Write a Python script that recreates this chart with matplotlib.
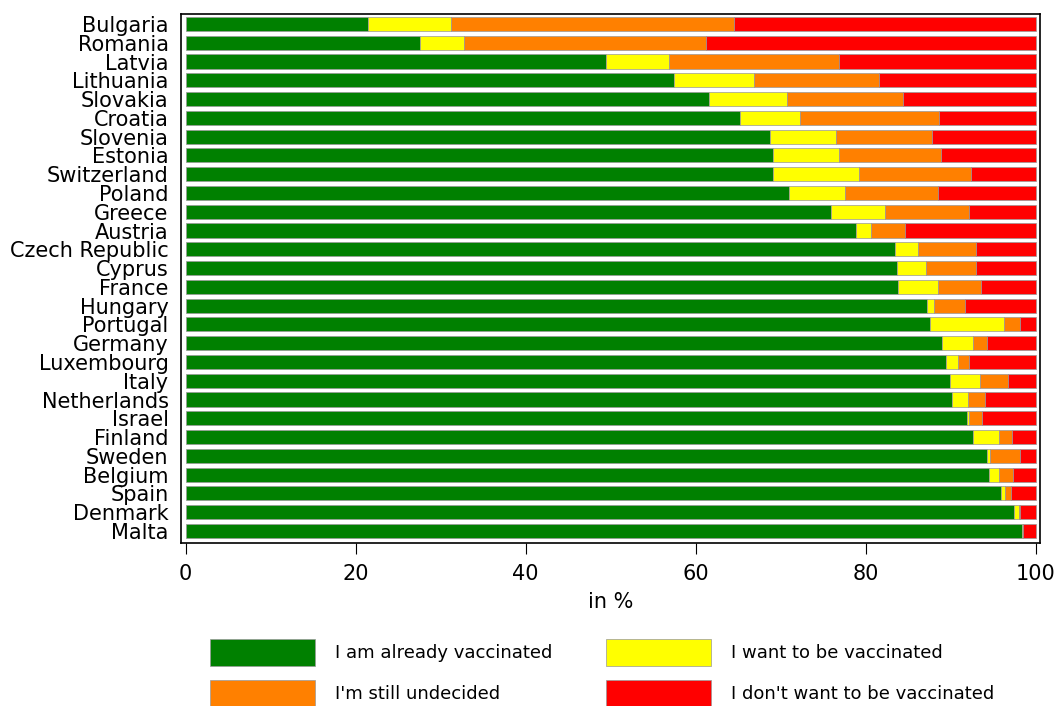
import numpy as np
import matplotlib
matplotlib.use("Agg")
import matplotlib.pyplot as plt

countries = ["Bulgaria", "Romania", "Latvia", "Lithuania", "Slovakia", "Croatia",
             "Slovenia", "Estonia", "Switzerland", "Poland", "Greece", "Austria",
             "Czech Republic", "Cyprus", "France", "Hungary", "Portugal", "Germany",
             "Luxembourg", "Italy", "Netherlands", "Israel", "Finland", "Sweden",
             "Belgium", "Spain", "Denmark", "Malta"]

# cumulative boundaries (in %)
vaccinated = [21.4, 27.6, 49.5, 57.4, 61.6, 65.2, 68.7, 69.1, 69.1, 71.0, 75.9, 78.9,
              83.4, 83.7, 83.8, 87.2, 87.6, 89.0, 89.4, 89.9, 90.2, 91.9, 92.6, 94.3,
              94.5, 95.9, 97.5, 98.4]
want_cum = [31.2, 32.7, 56.9, 66.8, 70.7, 72.3, 76.5, 76.8, 79.2, 77.6, 82.3, 80.6,
            86.1, 87.1, 88.5, 88.0, 96.3, 92.6, 90.9, 93.5, 92.0, 92.1, 95.7, 94.6,
            95.7, 96.4, 98.0, 98.5]
undecided_cum = [64.5, 61.2, 76.8, 81.6, 84.4, 88.6, 87.8, 88.9, 92.4, 88.5, 92.1, 84.6,
                 93.0, 93.0, 93.6, 91.7, 98.1, 94.3, 92.1, 96.7, 94.0, 93.7, 97.2, 98.1,
                 97.3, 97.1, 98.2, 98.5]

vaccinated = np.array(vaccinated)
want = np.array(want_cum) - vaccinated
undecided = np.array(undecided_cum) - np.array(want_cum)
dont = 100 - np.array(undecided_cum)

labels = ["I am already vaccinated", "I want to be vaccinated",
          "I'm still undecided", "I don't want to be vaccinated"]
colors = ["#008000", "#ffff00", "#ff8000", "#ff0000"]

fig = plt.figure(figsize=(10.55, 7.06), dpi=100)
ax = fig.add_axes([181 / 1055, 1 - 543 / 706, (1040 - 181) / 1055, (543 - 14) / 706])

y = np.arange(len(countries))
left = np.zeros(len(countries))
handles = []
for vals, lab, col in zip([vaccinated, want, undecided, dont], labels, colors):
    h = ax.barh(y, vals, left=left, height=0.75, color=col, edgecolor="#999999",
                linewidth=0.5, label=lab)
    handles.append(h)
    left = left + vals

ax.set_yticks(y)
ax.set_yticklabels(countries, fontsize=15)
ax.tick_params(axis="y", length=0, pad=9)
ax.set_ylim(len(countries) - 1 + 0.64, -0.53)
ax.set_xlim(-0.55, 100.5)
ax.set_xticks([0, 20, 40, 60, 80, 100])
ax.tick_params(axis="x", labelsize=15, length=8, direction="out", pad=7)
ax.set_xlabel("in %", fontsize=15, labelpad=6)
for s in ax.spines.values():
    s.set_linewidth(1.2)

order = [0, 2, 1, 3]
fig.legend([handles[i] for i in order], [labels[i] for i in order], ncol=2,
           loc="upper left", bbox_to_anchor=(210 / 1055, 1 - 639 / 706),
           frameon=False, fontsize=13, handlelength=5.8, handleheight=1.95,
           handletextpad=1.1, columnspacing=3.0, labelspacing=0.75,
           borderpad=0, borderaxespad=0)

fig.savefig("out.png", dpi=100)
